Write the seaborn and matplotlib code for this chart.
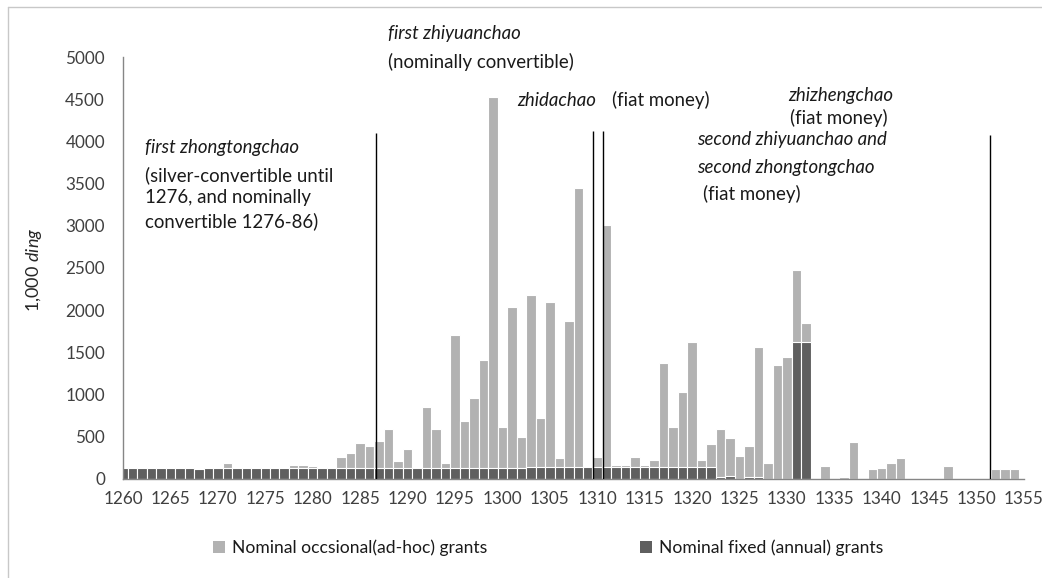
import numpy as np
import pandas as pd
import seaborn as sns
import matplotlib.pyplot as plt
from matplotlib.patches import Patch
from matplotlib.lines import Line2D

# data (1,000 ding), one value per year 1260-1355
years = list(range(1260, 1356))

occasional = [
    0, 0, 0, 0, 0, 0, 0, 0, 0, 0,                      # 1260-1269
    0, 60, 0, 0, 0, 0, 0, 0, 37, 37,                   # 1270-1279
    30, 0, 7, 133, 178, 303, 258, 318, 463, 83,        # 1280-1289
    228, 8, 727, 462, 58, 1586, 558, 824, 1279, 4402,  # 1290-1299
    487, 1902, 368, 2040, 574, 1955, 100, 1725, 3310, 8,  # 1300-1309
    112, 2870, 25, 15, 112, 20, 80, 1235, 475, 884,    # 1310-1319
    1475, 80, 270, 569, 455, 267, 371, 1547, 180, 1344,  # 1320-1329
    1447, 862, 225, 0, 150, 0, 14, 428, 0, 111,        # 1330-1339
    121, 180, 240, 0, 0, 0, 0, 148, 0, 0,              # 1340-1349
    0, 0, 110, 110, 110, 0,                            # 1350-1355
]

fixed = [
    128, 128, 128, 128, 128, 128, 128, 128, 118, 128,  # 1260-1269
    120, 120, 120, 128, 128, 128, 128, 128, 128, 128,  # 1270-1279
    120, 120, 128, 122, 122, 122, 122, 122, 122, 122,  # 1280-1289
    122, 122, 122, 122, 122, 122, 128, 128, 128, 128,  # 1290-1299
    128, 128, 128, 140, 140, 140, 140, 140, 140, 140,  # 1300-1309
    140, 140, 140, 140, 140, 140, 140, 140, 140, 140,  # 1310-1319
    140, 140, 140, 15, 30, 0, 15, 15, 0, 0,            # 1320-1329
    0, 1618, 1618, 0, 0, 0, 0, 0, 0, 0,                # 1330-1339
    0, 0, 0, 0, 0, 0, 0, 0, 0, 0,                      # 1340-1349
    0, 0, 0, 0, 0, 0,                                  # 1350-1355
]

tick_years = years[::5]

# currency reform markers: (position in years, line top)
reform_pos = [1286.7, 1309.6, 1310.65, 1351.4]
reform_top = [4100, 4130, 4130, 4080]

df = pd.DataFrame({'year': [str(y) for y in years],
                   'fixed': fixed,
                   'occasional': occasional})
df['total'] = df['fixed'] + df['occasional']

LIGHT = '#b2b2b2'
DARK = '#5f5f5f'
AXC = '#868686'

sns.set_theme(style='white')
plt.rcParams['font.family'] = ['Lato', 'DejaVu Sans']
plt.rcParams['mathtext.fontset'] = 'custom'
plt.rcParams['mathtext.rm'] = 'Lato'
plt.rcParams['mathtext.it'] = 'Lato:italic'

fig = plt.figure(figsize=(10.42, 5.78), dpi=100)
ax = fig.add_axes([123 / 1042, 1 - 478.5 / 578, 901 / 1042, 421.2 / 578])

# stacked bars: total in light, fixed part over it in dark
sns.barplot(data=df, x='year', y='total', order=df['year'], color=LIGHT,
            width=1.0, edgecolor='white', linewidth=0.8, saturation=1, ax=ax)
sns.barplot(data=df, x='year', y='fixed', order=df['year'], color=DARK,
            width=1.0, edgecolor='white', linewidth=0.8, saturation=1, ax=ax)

# vertical reform lines
for p, top in zip(reform_pos, reform_top):
    ax.vlines(p - years[0], 0, top, color='black', lw=1.0, zorder=5)

ax.set_xlim(0, len(years) - 1)
ax.set_ylim(0, 5000)
ax.set_xticks([y - years[0] for y in tick_years])
ax.set_xticklabels([str(y) for y in tick_years])
ax.set_yticks(np.arange(0, 5001, 500))
ax.set_xlabel('')
ax.set_ylabel('1,000 $\\it{ding}$', fontsize=13)
ax.yaxis.set_label_coords(-0.088, 0.495)

sns.despine(ax=ax)
for s in ['left', 'bottom']:
    ax.spines[s].set_color(AXC)
    ax.spines[s].set_linewidth(1.0)
ax.tick_params(axis='both', which='major', direction='out', length=5,
               width=1, color=AXC, labelsize=12.3, labelcolor='#404040', pad=4)
ax.tick_params(axis='y', pad=8)

# annotations
def px(xpix):
    return (xpix - 122.7) / 9.487

def val(ypix):
    return (478.5 - ypix) / 0.08424

tkw = dict(fontsize=13.4, color='#1a1a1a', va='center', ha='left', clip_on=False)
ax.text(px(145), val(148), 'first zhongtongchao', style='italic', **tkw)
ax.text(px(145), val(175), '(silver-convertible until', **tkw)
ax.text(px(145), val(198), '1276, and nominally', **tkw)
ax.text(px(145), val(221), 'convertible 1276-86)', **tkw)

ax.text(px(388), val(33), 'first zhiyuanchao', style='italic', **tkw)
ax.text(px(388), val(62), '(nominally convertible)', **tkw)

ax.text(px(517), val(100), 'zhidachao', style='italic', **tkw)
ax.text(px(612), val(100), '(fiat money)', **tkw)

ax.text(px(697), val(140), 'second zhiyuanchao and', style='italic', **tkw)
ax.text(px(697), val(168), 'second zhongtongchao', style='italic', **tkw)
ax.text(px(703), val(194), '(fiat money)', **tkw)

ax.text(px(788), val(95), 'zhizhengchao', style='italic', **tkw)
ax.text(px(790), val(118), '(fiat money)', **tkw)

# legend below the plot
handles = [Patch(facecolor=LIGHT, edgecolor='none'),
           Patch(facecolor=DARK, edgecolor='none')]
labels = ['Nominal occsional(ad-hoc) grants', 'Nominal fixed (annual) grants']
fig.legend(handles, labels, loc='center', bbox_to_anchor=(548 / 1042, 1 - 548 / 578),
           ncol=2, frameon=False, fontsize=12.6, handlelength=0.7, handleheight=0.7,
           handletextpad=0.4, columnspacing=8.7, labelcolor='#1a1a1a')

# outer chart frame (top and left edge visible)
fig.add_artist(Line2D([8 / 1042, 1], [1 - 7 / 578, 1 - 7 / 578],
                      transform=fig.transFigure, color='#c8c8c8', lw=1))
fig.add_artist(Line2D([8 / 1042, 8 / 1042], [0, 1 - 7 / 578],
                      transform=fig.transFigure, color='#c8c8c8', lw=1))

fig.savefig('out.png', dpi=100)
